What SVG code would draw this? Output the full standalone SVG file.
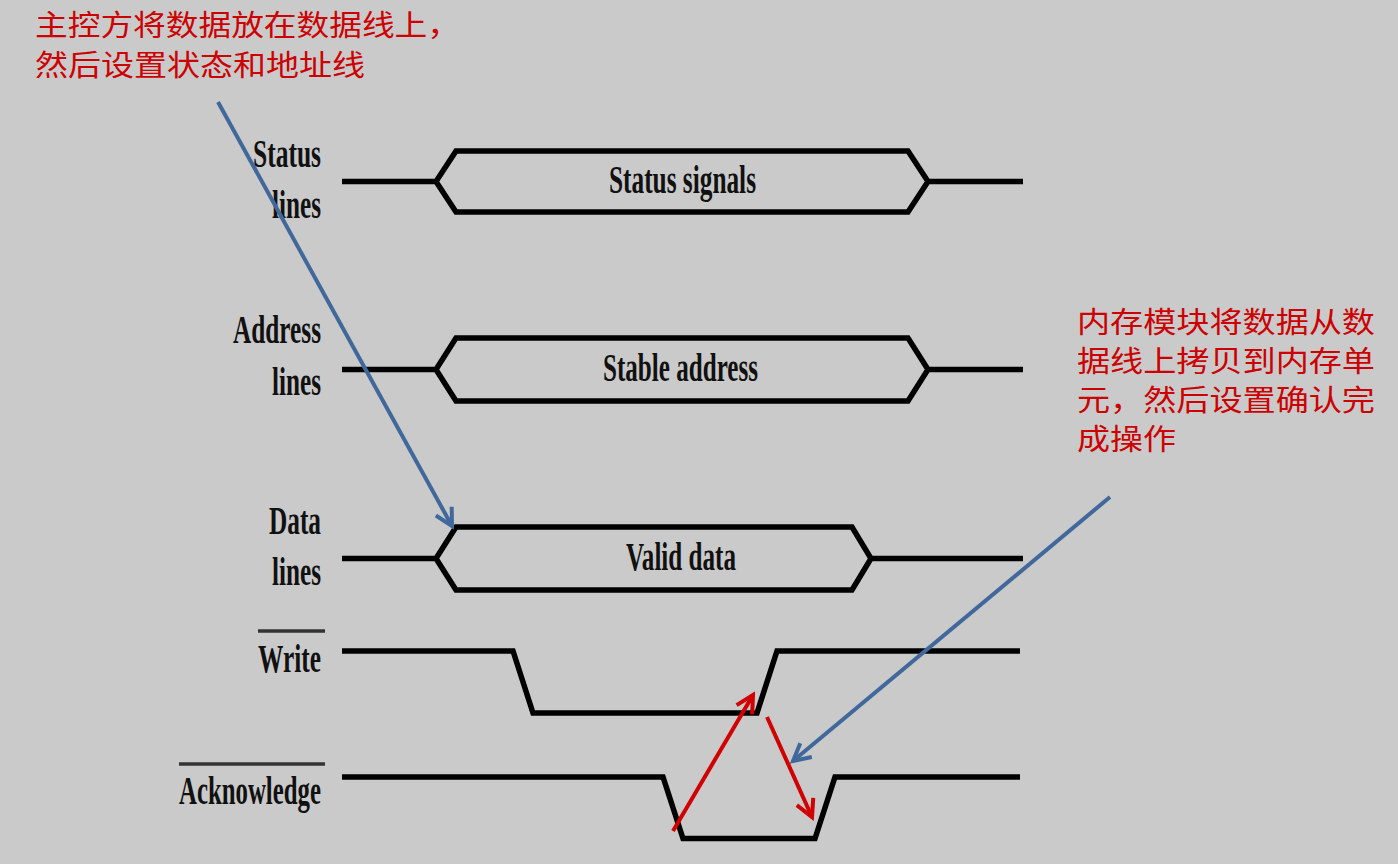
<svg xmlns="http://www.w3.org/2000/svg" width="1398" height="864" viewBox="0 0 1398 864">
<style>
.wave{fill:none;stroke:#000;stroke-width:5.5;stroke-linejoin:miter;stroke-linecap:butt}
.bar{stroke:#333;stroke-width:3.5}
.lbl{font-family:"Liberation Serif","Times New Roman",serif;font-size:40px;font-weight:bold;fill:#111}
.cn{font-family:"Noto Sans CJK SC","Noto Sans",sans-serif;font-size:29px;fill:#cc0000}
.blue{fill:none;stroke:#41689b;stroke-width:4}
.red{fill:none;stroke:#d00000;stroke-width:4}
</style>
<defs>
<marker id="hb" markerUnits="userSpaceOnUse" markerWidth="24" markerHeight="28" viewBox="-20 -14 24 28" refX="0" refY="0" orient="auto">
<path d="M-17,-9 L0,0 L-17,9" fill="none" stroke="#41689b" stroke-width="4"/>
</marker>
<marker id="hr" markerUnits="userSpaceOnUse" markerWidth="24" markerHeight="28" viewBox="-20 -14 24 28" refX="0" refY="0" orient="auto">
<path d="M-17,-9 L0,0 L-17,9" fill="none" stroke="#d00000" stroke-width="4"/>
</marker>
</defs>
<rect width="1398" height="864" fill="#cacaca"/>

<g id="status">
<text class="lbl" x="253" y="167" textLength="68" lengthAdjust="spacingAndGlyphs">Status</text>
<text class="lbl" x="272" y="218" textLength="49" lengthAdjust="spacingAndGlyphs">lines</text>
<path class="wave" d="M342,181.5 H436 L456,151 H908 L928,181.5 L908,212 H456 L436,181.5 M928,181.5 H1023"/>
<text class="lbl" x="609" y="193" textLength="147" lengthAdjust="spacingAndGlyphs">Status signals</text>
</g>

<g id="address">
<text class="lbl" x="233" y="343" textLength="88" lengthAdjust="spacingAndGlyphs">Address</text>
<text class="lbl" x="272" y="395" textLength="49" lengthAdjust="spacingAndGlyphs">lines</text>
<path class="wave" d="M342,369.5 H436 L456,338 H908 L928,369.5 L908,401 H456 L436,369.5 M928,369.5 H1023"/>
<text class="lbl" x="603" y="381" textLength="155" lengthAdjust="spacingAndGlyphs">Stable address</text>
</g>

<g id="data">
<text class="lbl" x="269" y="534" textLength="52" lengthAdjust="spacingAndGlyphs">Data</text>
<text class="lbl" x="272" y="585" textLength="49" lengthAdjust="spacingAndGlyphs">lines</text>
<path class="wave" d="M342,558.5 H436 L456,527 H852 L871,558.5 L852,590 H456 L436,558.5 M871,558.5 H1023"/>
<text class="lbl" x="626" y="570" textLength="110" lengthAdjust="spacingAndGlyphs">Valid data</text>
</g>

<g id="write">
<line class="bar" x1="258" y1="631" x2="325" y2="631"/>
<text class="lbl" x="258" y="672" textLength="63" lengthAdjust="spacingAndGlyphs">Write</text>
<path class="wave" d="M342,651 H513 L533,713 H757 L777,651 H1020"/>
</g>

<g id="acknowledge">
<line class="bar" x1="179" y1="764" x2="325" y2="764"/>
<text class="lbl" x="179" y="804" textLength="142" lengthAdjust="spacingAndGlyphs">Acknowledge</text>
<path class="wave" d="M342,777 H663 L683,838.5 H815 L835,777 H1020"/>
</g>

<g id="note-master">
<text class="cn" x="35" y="36" textLength="425" lengthAdjust="spacingAndGlyphs">主控方将数据放在数据线上，</text>
<text class="cn" x="35" y="76" textLength="330" lengthAdjust="spacingAndGlyphs">然后设置状态和地址线</text>
</g>

<g id="note-memory">
<text class="cn" x="1077" y="333" textLength="298" lengthAdjust="spacingAndGlyphs">内存模块将数据从数</text>
<text class="cn" x="1077" y="372" textLength="298" lengthAdjust="spacingAndGlyphs">据线上拷贝到内存单</text>
<text class="cn" x="1077" y="411" textLength="298" lengthAdjust="spacingAndGlyphs">元，然后设置确认完</text>
<text class="cn" x="1077" y="450" textLength="99" lengthAdjust="spacingAndGlyphs">成操作</text>
</g>

<g id="connectors">
<line class="blue" x1="218" y1="102" x2="452" y2="526" marker-end="url(#hb)"/>
<line class="blue" x1="1110" y1="497" x2="793" y2="761" marker-end="url(#hb)"/>
<line class="red" x1="673" y1="831" x2="753" y2="695" marker-end="url(#hr)"/>
<line class="red" x1="767" y1="717" x2="812" y2="817" marker-end="url(#hr)"/>
</g>
</svg>
